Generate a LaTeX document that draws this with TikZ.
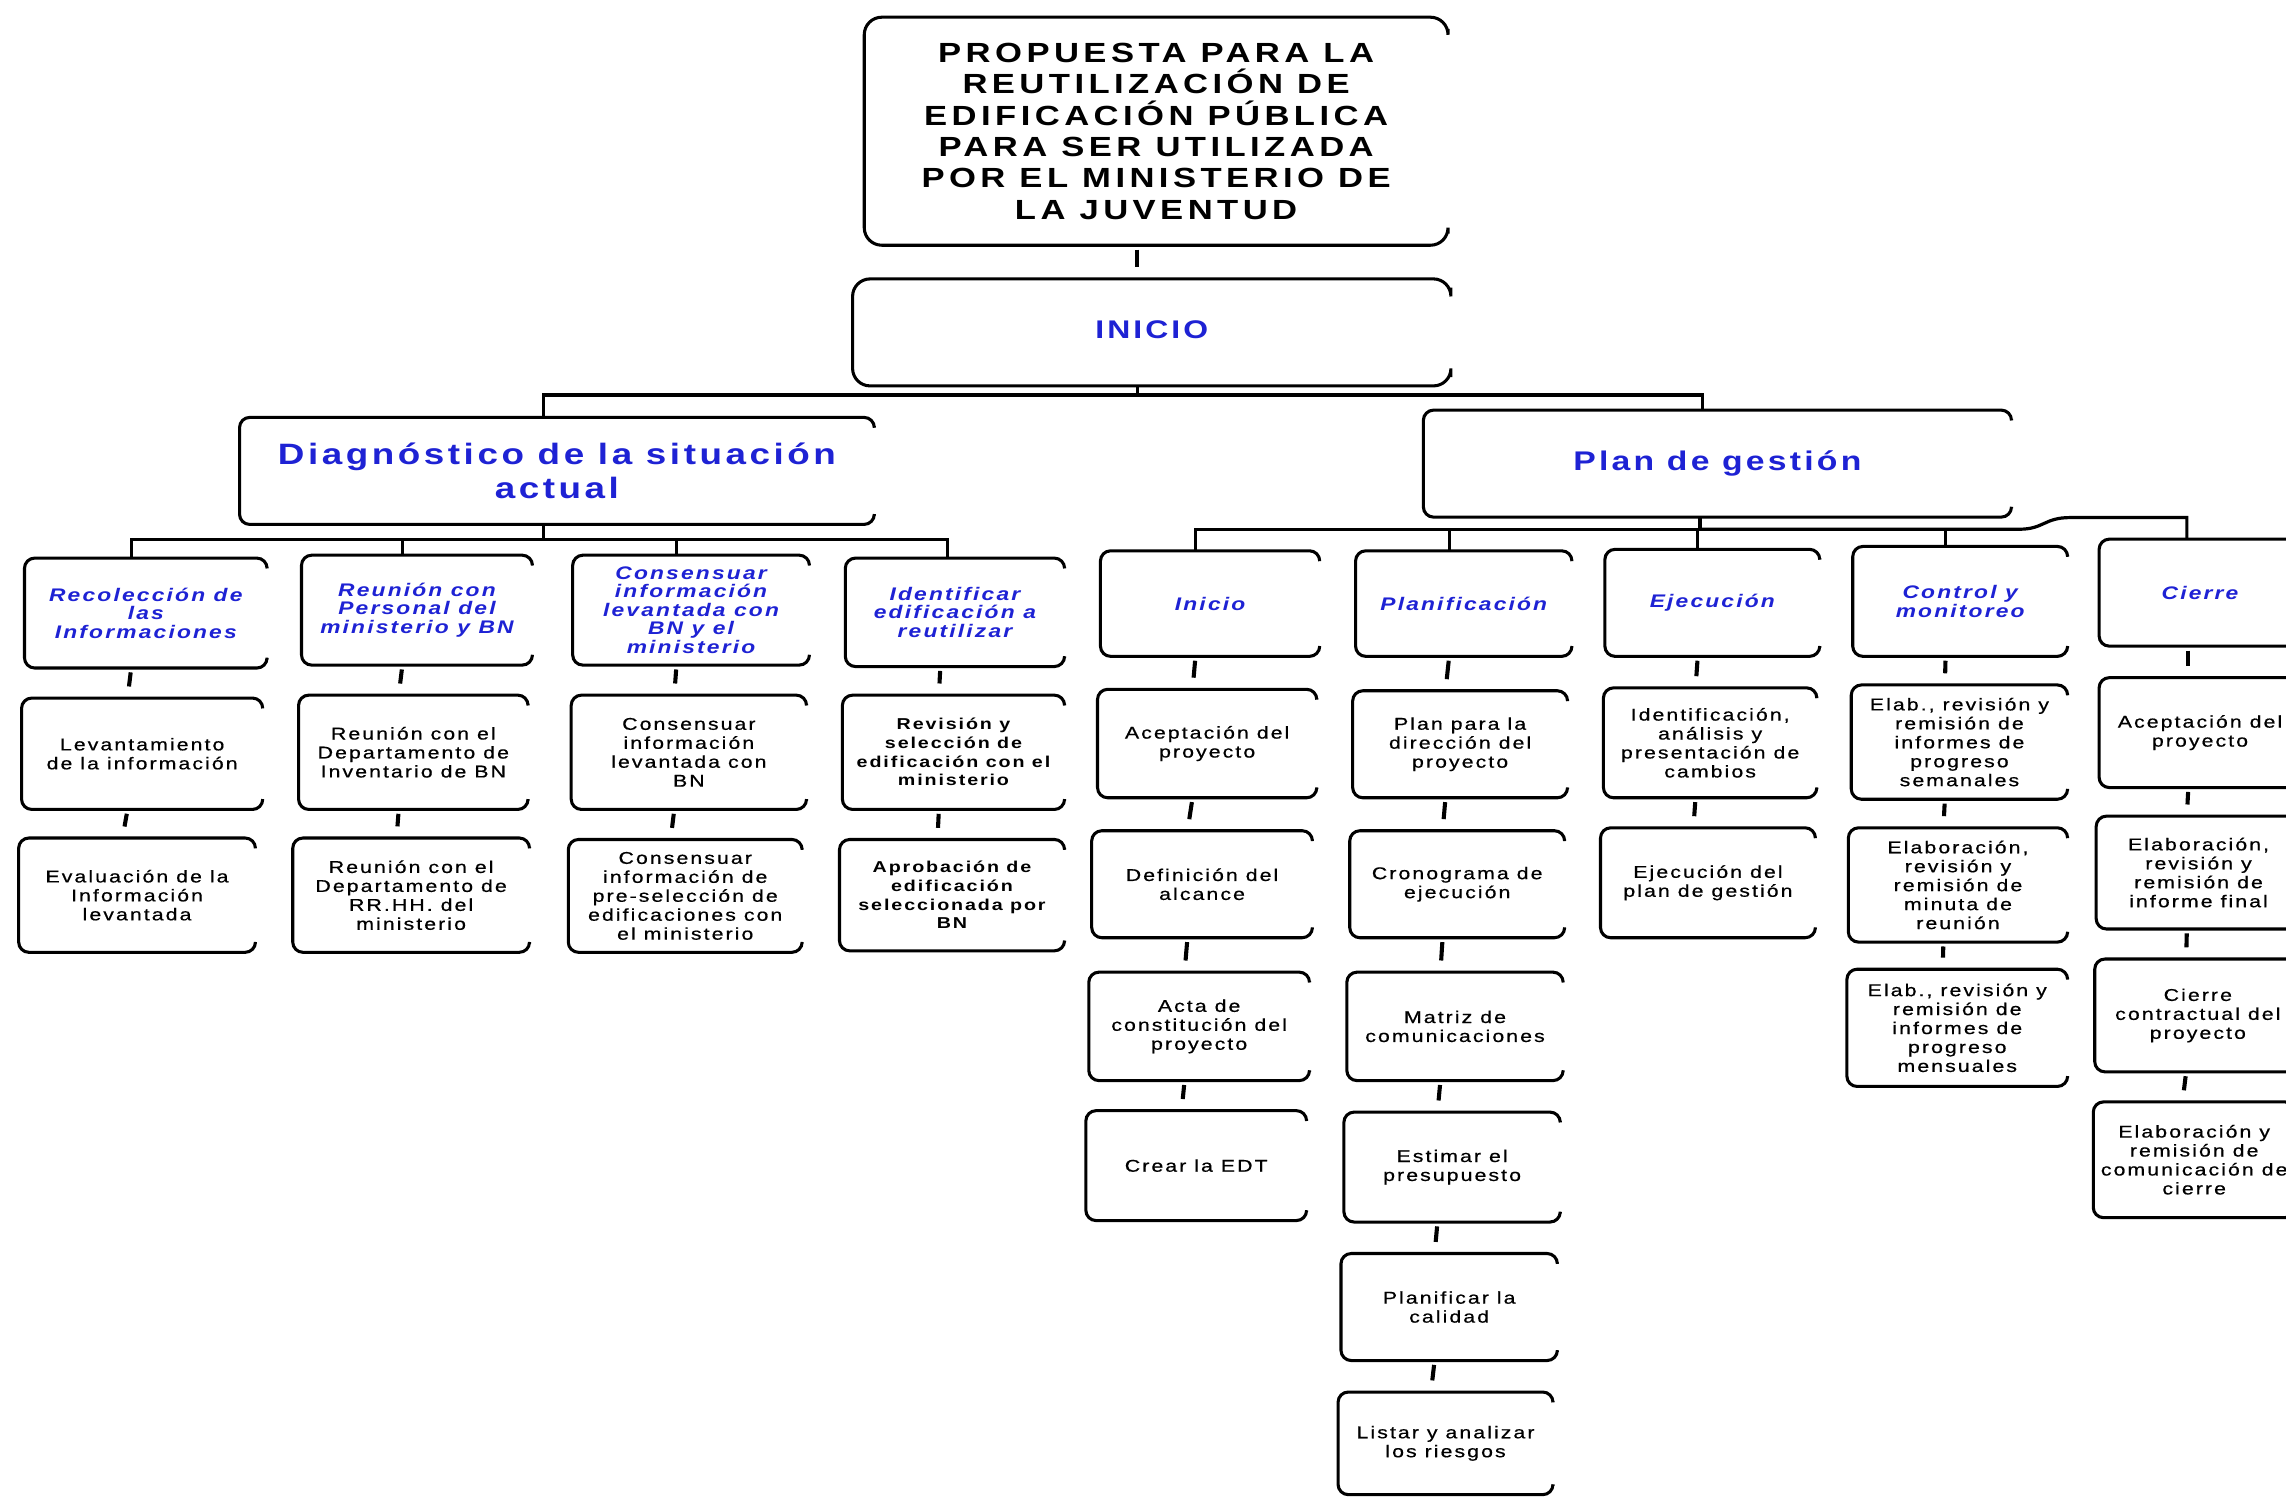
\documentclass[tikz,border=0pt]{standalone}
\usepackage{fontspec}
\setmainfont{Liberation Sans}[FakeStretch=1.25, LetterSpace=12, UprightFeatures={FakeBold=0.6}]
\usetikzlibrary{calc}
\definecolor{hblue}{RGB}{30,34,212}
\tikzset{
  boxline/.style={line width=2.1pt, rounded corners=7pt},
  bigline/.style={line width=2.1pt, rounded corners=12pt},
  lbl/.style={inner sep=0pt, align=center, font=\fontsize{11.7}{13}\selectfont},
  lblb/.style={lbl, font=\fontsize{10.8}{12.8}\selectfont\bfseries},
  hdr/.style={lbl, text=hblue, font=\fontsize{12.5}{12.7}\selectfont\bfseries\itshape},
  tick/.style={line width=2.8pt, shorten <=3pt, shorten >=8pt},
  bus/.style={line width=2.2pt},
}
\newcommand\mkbox[7]{%
  \node[#6, minimum width={(#4-#2)*1pt}, minimum height={(#5-#3)*1pt}] (#1) at ({(#2+#4)/2},{(#3+#5)/2}) {#7};
  \draw[boxline] ([yshift=-6pt]#1.north east) -- (#1.north east) -- (#1.north west) -- (#1.south west) -- (#1.south east) -- ([yshift=6pt]#1.south east);
}
\begin{document}
\begin{tikzpicture}[x=1pt,y=-1pt]
\useasboundingbox (0,0) rectangle (1568,1028);
\fill[white] (0,0) rectangle (1568,1028);
\clip (0,0) rectangle (1568,1028);

% title
\node[lbl, font=\fontsize{19}{21.6}\selectfont\bfseries\addfontfeature{LetterSpace=16}, minimum width=400pt, minimum height=156pt] (title) at (793,90)
  {PROPUESTA PARA LA\\REUTILIZACIÓN  DE\\EDIFICACIÓN  PÚBLICA\\PARA SER UTILIZADA\\POR EL MINISTERIO  DE\\LA JUVENTUD};
\draw[bigline] ([yshift=-8pt]title.north east) -- (title.north east) -- (title.north west) -- (title.south west) -- (title.south east) -- ([yshift=8pt]title.south east);

\node[lbl, text=hblue, font=\fontsize{17.5}{20}\selectfont\bfseries, minimum width=410pt, minimum height=73pt] (inicio) at (790,228) {\raisebox{4pt}{INICIO}};
\draw[bigline] ([yshift=-6pt]inicio.north east) -- (inicio.north east) -- (inicio.north west) -- (inicio.south west) -- (inicio.south east) -- ([yshift=6pt]inicio.south east);

\node[lbl, text=hblue, font=\fontsize{20.2}{23}\selectfont\bfseries, minimum width=435pt, minimum height=73pt] (diag) at (382,323) {Diagnóstico de la situación\\actual};
\draw[boxline] ([yshift=-6pt]diag.north east) -- (diag.north east) -- (diag.north west) -- (diag.south west) -- (diag.south east) -- ([yshift=6pt]diag.south east);

\node[lbl, text=hblue, font=\fontsize{18.5}{22}\selectfont\bfseries, minimum width=403pt, minimum height=73pt] (plan) at (1178,318) {Plan de gestión};
\draw[boxline] ([yshift=-6pt]plan.north east) -- (plan.north east) -- (plan.north west) -- (plan.south west) -- (plan.south east) -- ([yshift=6pt]plan.south east);

% left branch
\mkbox{L1a}{17}{383}{183}{458}{hdr}{Recolección de\\las\\Informaciones}
\mkbox{L1b}{207}{381}{365}{456}{hdr}{Reunión con\\Personal del\\ministerio y BN}
\mkbox{L1c}{393}{381}{555}{456}{hdr}{Consensuar\\información\\levantada con\\BN y el\\ministerio}
\mkbox{L1d}{580}{383}{730}{457}{hdr}{Identificar\\edificación a\\reutilizar}
\mkbox{L2a}{15}{479}{180}{555}{lbl}{Levantamiento\\de la información}
\mkbox{L2b}{205}{477}{362}{555}{lbl}{Reunión con el\\Departamento de\\Inventario de BN}
\mkbox{L2c}{392}{477}{553}{555}{lbl}{Consensuar\\información\\levantada con\\BN}
\mkbox{L2d}{578}{477}{730}{555}{lblb}{Revisión y\\selección de\\edificación con el\\ministerio}
\mkbox{L3a}{13}{575}{175}{653}{lbl}{Evaluación de la\\Información\\levantada}
\mkbox{L3b}{201}{575}{363}{653}{lbl}{Reunión con el\\Departamento de\\RR.HH. del\\ministerio}
\mkbox{L3c}{390}{576}{550}{653}{lbl}{Consensuar\\información de\\pre-selección de\\edificaciones con\\el ministerio}
\mkbox{L3d}{576}{576}{730}{652}{lblb}{Aprobación de\\edificación\\seleccionada por\\BN}

% right branch
\mkbox{R1}{755}{378}{905}{450}{hdr}{Inicio}
\mkbox{R1a}{753}{473}{903}{547}{lbl}{Aceptación del\\proyecto}
\mkbox{R1b}{749}{570}{900}{643}{lbl}{Definición del\\alcance}
\mkbox{R1c}{747}{667}{898}{741}{lbl}{Acta de\\constitución del\\proyecto}
\mkbox{R1d}{745}{762}{896}{837}{lbl}{Crear la EDT}
\mkbox{R2}{930}{378}{1078}{450}{hdr}{Planificación}
\mkbox{R2a}{928}{474}{1075}{547}{lbl}{Plan para la\\dirección del\\proyecto}
\mkbox{R2b}{926}{570}{1073}{643}{lbl}{Cronograma de\\ejecución}
\mkbox{R2c}{924}{667}{1072}{741}{lbl}{Matriz de\\comunicaciones}
\mkbox{R2d}{922}{763}{1070}{838}{lbl}{Estimar el\\presupuesto}
\mkbox{R2e}{920}{860}{1068}{933}{lbl}{Planificar la\\calidad}
\mkbox{R2f}{918}{955}{1065}{1025}{lbl}{Listar y analizar\\los riesgos}
\mkbox{R3}{1101}{377}{1248}{450}{hdr}{Ejecución}
\mkbox{R3a}{1100}{472}{1246}{547}{lbl}{Identificación,\\análisis y\\presentación de\\cambios}
\mkbox{R3b}{1098}{568}{1245}{643}{lbl}{Ejecución del\\plan de gestión}
\mkbox{R4}{1271}{375}{1418}{450}{hdr}{Control y\\monitoreo}
\mkbox{R4a}{1270}{470}{1418}{548}{lbl}{Elab., revisión y\\remisión de\\informes de\\progreso\\semanales}
\mkbox{R4b}{1268}{568}{1418}{646}{lbl}{Elaboración,\\revisión y\\remisión de\\minuta de\\reunión}
\mkbox{R4c}{1267}{665}{1418}{745}{lbl}{Elab., revisión y\\remisión de\\informes de\\progreso\\mensuales}
\mkbox{R5}{1440}{370}{1578}{443}{hdr}{Cierre}
\mkbox{R5a}{1440}{465}{1578}{540}{lbl}{Aceptación del\\proyecto}
\mkbox{R5b}{1438}{560}{1578}{637}{lbl}{Elaboración,\\revisión y\\remisión de\\informe final}
\mkbox{R5c}{1437}{658}{1578}{735}{lbl}{Cierre\\contractual del\\proyecto}
\mkbox{R5d}{1436}{756}{1574}{835}{lbl}{Elaboración y\\remisión de\\comunicación de\\cierre}

% vertical ticks
\draw[tick] ([xshift=-13pt]title.south) -- ([xshift=-10pt]inicio.north);
\foreach \a/\b in {L1a/L2a,L2a/L3a,L1b/L2b,L2b/L3b,L1c/L2c,L2c/L3c,L1d/L2d,L2d/L3d,
  R1/R1a,R1a/R1b,R1b/R1c,R1c/R1d,R2/R2a,R2a/R2b,R2b/R2c,R2c/R2d,R2d/R2e,R2e/R2f,
  R3/R3a,R3a/R3b,R4/R4a,R4a/R4b,R4b/R4c}
  \draw[tick] ([xshift=-10pt]\a.south) -- ([xshift=-10pt]\b.north);
\foreach \a/\b in {R5/R5a,R5a/R5b,R5b/R5c,R5c/R5d}
  \draw[tick] ([xshift=-8pt]\a.south) -- ([xshift=-8pt]\b.north);

% buses
\coordinate (j1) at (780,271);
\draw[bus] (inicio.south -| j1) -- (j1);
\draw[bus] ([xshift=-9pt]diag.north) |- (j1) -| ([xshift=-10pt]plan.north);

\coordinate (j2) at (373,370);
\draw[bus] (diag.south -| j2) -- (j2);
\foreach \n in {L1a,L1b,L1c} \draw[bus] ([xshift=-10pt]\n.north) |- (j2);
\draw[bus] (j2) -| ([xshift=-5pt]L1d.north);

\coordinate (j3) at (1166,363);
\draw[bus] (plan.south -| j3) -- (j3);
\foreach \n in {R1,R2,R3,R4} \draw[bus] ([xshift=-10pt]\n.north) |- (j3);
\draw[bus] (j3) -- (1385,363) .. controls (1402,363) and (1402,355) .. (1420,355) -| ([xshift=-9pt]R5.north);
\end{tikzpicture}
\end{document}
